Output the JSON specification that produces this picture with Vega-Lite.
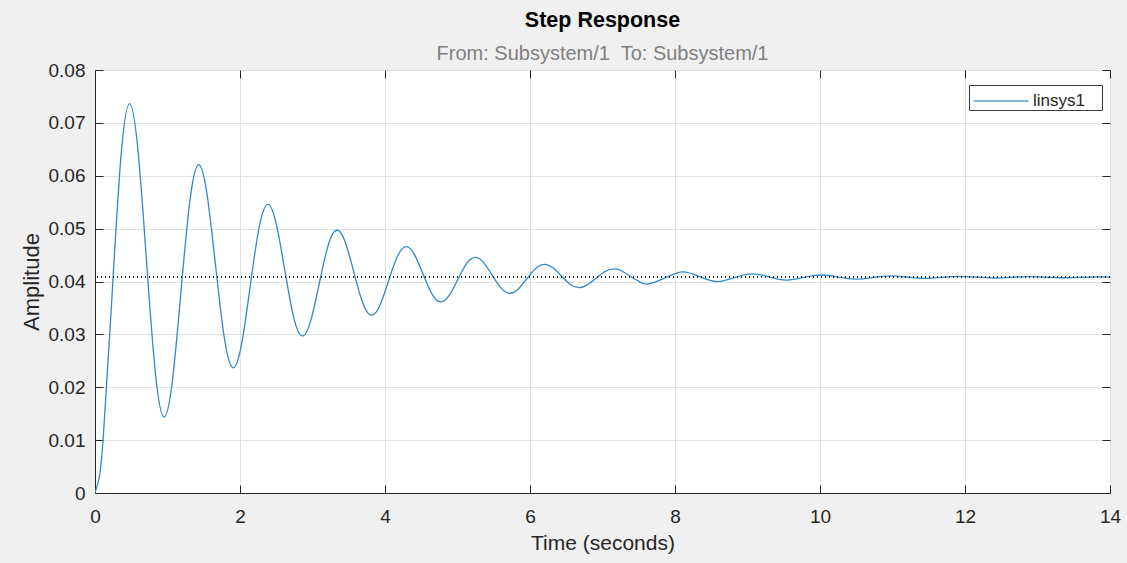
{
  "$schema": "https://vega.github.io/schema/vega-lite/v6.json",
  "width": 1015,
  "height": 423,
  "autosize": {"type": "none"},
  "padding": {"left": 95, "top": 70, "right": 17, "bottom": 70},
  "background": "#f0f0f0",
  "title": {
    "text": "Step Response",
    "subtitle": "From: Subsystem/1\u00a0 To: Subsystem/1",
    "anchor": "middle",
    "font": "Liberation Sans",
    "fontSize": 21.5,
    "fontWeight": "bold",
    "color": "#000000",
    "subtitleFont": "Liberation Sans",
    "subtitleFontSize": 20,
    "subtitleColor": "#808080",
    "subtitlePadding": 13,
    "offset": -3
  },
  "config": {
    "view": {"stroke": "#262626", "strokeWidth": 1, "fill": "#ffffff"},
    "axis": {
      "labelFont": "Liberation Sans",
      "titleFont": "Liberation Sans",
      "labelColor": "#262626",
      "titleColor": "#262626",
      "labelFontSize": 19,
      "titleFontSize": 21,
      "titleFontWeight": "normal",
      "domainColor": "#262626",
      "tickColor": "#262626",
      "tickSize": -8,
      "gridColor": "#e1e1e1",
      "gridOpacity": 1
    }
  },
  "resolve": {"axis": {"x": "independent", "y": "independent"}},
  "data": {
    "values": [
      {"t": 0, "amp": 0, "series": "linsys1"},
      {"t": 0.060, "amp": 0.00307, "series": "linsys1"},
      {"t": 0.119, "amp": 0.01158, "series": "linsys1"},
      {"t": 0.239, "amp": 0.03827, "series": "linsys1"},
      {"t": 0.358, "amp": 0.06362, "series": "linsys1"},
      {"t": 0.477, "amp": 0.07364, "series": "linsys1"},
      {"t": 0.596, "amp": 0.06432, "series": "linsys1"},
      {"t": 0.716, "amp": 0.04284, "series": "linsys1"},
      {"t": 0.835, "amp": 0.02243, "series": "linsys1"},
      {"t": 0.954, "amp": 0.01436, "series": "linsys1"},
      {"t": 1.073, "amp": 0.02187, "series": "linsys1"},
      {"t": 1.193, "amp": 0.03916, "series": "linsys1"},
      {"t": 1.312, "amp": 0.05559, "series": "linsys1"},
      {"t": 1.431, "amp": 0.06208, "series": "linsys1"},
      {"t": 1.550, "amp": 0.05604, "series": "linsys1"},
      {"t": 1.670, "amp": 0.04212, "series": "linsys1"},
      {"t": 1.789, "amp": 0.02890, "series": "linsys1"},
      {"t": 1.908, "amp": 0.02367, "series": "linsys1"},
      {"t": 2.027, "amp": 0.02853, "series": "linsys1"},
      {"t": 2.147, "amp": 0.03974, "series": "linsys1"},
      {"t": 2.266, "amp": 0.05038, "series": "linsys1"},
      {"t": 2.385, "amp": 0.05459, "series": "linsys1"},
      {"t": 2.504, "amp": 0.05068, "series": "linsys1"},
      {"t": 2.624, "amp": 0.04166, "series": "linsys1"},
      {"t": 2.743, "amp": 0.03309, "series": "linsys1"},
      {"t": 2.862, "amp": 0.02970, "series": "linsys1"},
      {"t": 2.981, "amp": 0.03285, "series": "linsys1"},
      {"t": 3.101, "amp": 0.04011, "series": "linsys1"},
      {"t": 3.220, "amp": 0.04701, "series": "linsys1"},
      {"t": 3.339, "amp": 0.04974, "series": "linsys1"},
      {"t": 3.458, "amp": 0.04720, "series": "linsys1"},
      {"t": 3.578, "amp": 0.04135, "series": "linsys1"},
      {"t": 3.697, "amp": 0.03580, "series": "linsys1"},
      {"t": 3.816, "amp": 0.03361, "series": "linsys1"},
      {"t": 3.935, "amp": 0.03565, "series": "linsys1"},
      {"t": 4.055, "amp": 0.04035, "series": "linsys1"},
      {"t": 4.174, "amp": 0.04482, "series": "linsys1"},
      {"t": 4.293, "amp": 0.04659, "series": "linsys1"},
      {"t": 4.412, "amp": 0.04495, "series": "linsys1"},
      {"t": 4.532, "amp": 0.04116, "series": "linsys1"},
      {"t": 4.651, "amp": 0.03756, "series": "linsys1"},
      {"t": 4.770, "amp": 0.03614, "series": "linsys1"},
      {"t": 4.889, "amp": 0.03746, "series": "linsys1"},
      {"t": 5.009, "amp": 0.04051, "series": "linsys1"},
      {"t": 5.128, "amp": 0.04341, "series": "linsys1"},
      {"t": 5.247, "amp": 0.04455, "series": "linsys1"},
      {"t": 5.366, "amp": 0.04349, "series": "linsys1"},
      {"t": 5.486, "amp": 0.04103, "series": "linsys1"},
      {"t": 5.605, "amp": 0.03870, "series": "linsys1"},
      {"t": 5.724, "amp": 0.03778, "series": "linsys1"},
      {"t": 5.843, "amp": 0.03864, "series": "linsys1"},
      {"t": 5.963, "amp": 0.04061, "series": "linsys1"},
      {"t": 6.082, "amp": 0.04249, "series": "linsys1"},
      {"t": 6.201, "amp": 0.04323, "series": "linsys1"},
      {"t": 6.320, "amp": 0.04254, "series": "linsys1"},
      {"t": 6.440, "amp": 0.04095, "series": "linsys1"},
      {"t": 6.559, "amp": 0.03944, "series": "linsys1"},
      {"t": 6.678, "amp": 0.03884, "series": "linsys1"},
      {"t": 6.797, "amp": 0.03940, "series": "linsys1"},
      {"t": 6.917, "amp": 0.04068, "series": "linsys1"},
      {"t": 7.036, "amp": 0.04190, "series": "linsys1"},
      {"t": 7.155, "amp": 0.04238, "series": "linsys1"},
      {"t": 7.274, "amp": 0.04193, "series": "linsys1"},
      {"t": 7.394, "amp": 0.04090, "series": "linsys1"},
      {"t": 7.513, "amp": 0.03992, "series": "linsys1"},
      {"t": 7.632, "amp": 0.03953, "series": "linsys1"},
      {"t": 7.871, "amp": 0.04072, "series": "linsys1"},
      {"t": 8.109, "amp": 0.04182, "series": "linsys1"},
      {"t": 8.348, "amp": 0.04086, "series": "linsys1"},
      {"t": 8.586, "amp": 0.03998, "series": "linsys1"},
      {"t": 8.825, "amp": 0.04075, "series": "linsys1"},
      {"t": 9.063, "amp": 0.04146, "series": "linsys1"},
      {"t": 9.302, "amp": 0.04084, "series": "linsys1"},
      {"t": 9.540, "amp": 0.04027, "series": "linsys1"},
      {"t": 9.779, "amp": 0.04077, "series": "linsys1"},
      {"t": 10.017, "amp": 0.04123, "series": "linsys1"},
      {"t": 10.256, "amp": 0.04083, "series": "linsys1"},
      {"t": 10.494, "amp": 0.04046, "series": "linsys1"},
      {"t": 10.733, "amp": 0.04078, "series": "linsys1"},
      {"t": 10.971, "amp": 0.04108, "series": "linsys1"},
      {"t": 11.210, "amp": 0.04082, "series": "linsys1"},
      {"t": 11.448, "amp": 0.04058, "series": "linsys1"},
      {"t": 11.687, "amp": 0.04079, "series": "linsys1"},
      {"t": 11.925, "amp": 0.04098, "series": "linsys1"},
      {"t": 12.164, "amp": 0.04081, "series": "linsys1"},
      {"t": 12.402, "amp": 0.04066, "series": "linsys1"},
      {"t": 12.641, "amp": 0.04079, "series": "linsys1"},
      {"t": 12.879, "amp": 0.04092, "series": "linsys1"},
      {"t": 13.118, "amp": 0.04081, "series": "linsys1"},
      {"t": 13.356, "amp": 0.04071, "series": "linsys1"},
      {"t": 13.595, "amp": 0.04079, "series": "linsys1"},
      {"t": 13.833, "amp": 0.04088, "series": "linsys1"},
      {"t": 14.0, "amp": 0.04084, "series": "linsys1"}
    ]
  },
  "layer": [
    {
      "mark": {"type": "line", "interpolate": "natural", "strokeWidth": 1.3, "clip": true},
      "encoding": {
        "x": {
          "field": "t", "type": "quantitative",
          "scale": {"domain": [0, 14], "nice": false, "zero": false},
          "axis": {
            "title": "Time (seconds)",
            "values": [0, 2, 4, 6, 8, 10, 12, 14],
            "labelPadding": 22,
            "titlePadding": 6,
            "labelFlush": false
          }
        },
        "y": {
          "field": "amp", "type": "quantitative",
          "scale": {"domain": [0, 0.08], "nice": false},
          "axis": {
            "title": "Amplitude",
            "titleFontSize": 22,
            "values": [0, 0.01, 0.02, 0.03, 0.04, 0.05, 0.06, 0.07, 0.08],
            "labelExpr": "datum.value == 0 ? '0' : format(datum.value, '.2f')",
            "labelPadding": 18,
            "titlePadding": 5,
            "labelFlush": false
          }
        },
        "color": {
          "field": "series", "type": "nominal",
          "scale": {"range": ["#2f89ce"]},
          "legend": {
            "title": null,
            "orient": "none",
            "legendX": 874,
            "legendY": 15,
            "symbolType": "M-2,0L2,0",
            "symbolSize": 756,
            "symbolOffset": 16,
            "symbolOpacity": 0.6,
            "symbolStrokeWidth": 2,
            "labelFont": "Liberation Sans",
            "labelFontSize": 17,
            "labelColor": "#262626",
            "labelOffset": 17,
            "labelExpr": "datum.label + '\u2009\u2800'",
            "strokeColor": "#3c3c3c",
            "fillColor": "#ffffff",
            "padding": 1
          }
        }
      }
    },
    {
      "mark": {"type": "line", "opacity": 0, "clip": true},
      "encoding": {
        "x": {
          "field": "t", "type": "quantitative",
          "axis": {
            "orient": "top", "title": null, "labels": false, "grid": false, "domain": false,
            "values": [0, 2, 4, 6, 8, 10, 12, 14]
          }
        },
        "y": {
          "field": "amp", "type": "quantitative",
          "axis": {
            "orient": "right", "title": null, "labels": false, "grid": false, "domain": false,
            "values": [0, 0.01, 0.02, 0.03, 0.04, 0.05, 0.06, 0.07, 0.08]
          }
        }
      }
    },
    {
      "mark": {"type": "rule", "color": "#262626", "strokeWidth": 1, "strokeDash": [1, 3]},
      "encoding": {"y": {"datum": 0.0408, "axis": null}}
    }
  ]
}
